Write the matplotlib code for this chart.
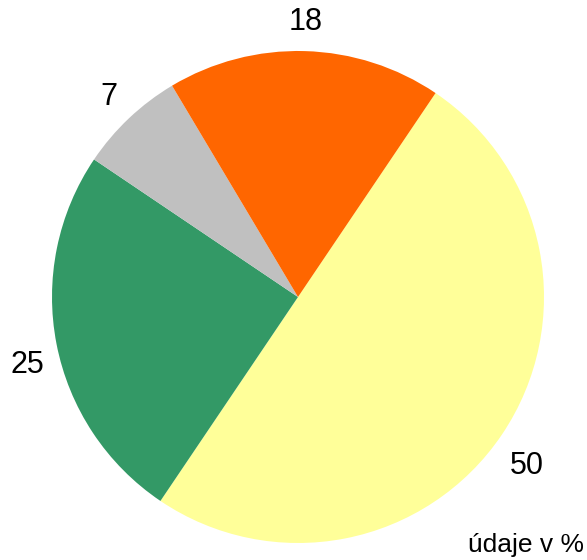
import matplotlib.pyplot as plt

values = [50, 25, 7, 18]
labels = ['50', '25', '7', '18']
colors = ['#FFFF99', '#339966', '#C0C0C0', '#FF6600']

center = (298, 263)

fig = plt.figure(figsize=(5.87, 5.60), dpi=100)
ax = fig.add_axes([0, 0, 1, 1])

wedges, texts = ax.pie(values, labels=labels, colors=colors, startangle=56,
                       counterclock=False, center=center, radius=246,
                       labeldistance=1.12, frame=True,
                       textprops={'fontsize': 22, 'family': 'Liberation Sans'})
for t in texts:
    t.set_horizontalalignment('center')
    x, y = t.get_position()
    # labels below the centre hang from their anchor, as in the original
    t.set_verticalalignment('top' if y < center[1] else 'center')

ax.set_xlim(0, 587)
ax.set_ylim(0, 560)
ax.set_aspect('equal')
ax.axis('off')

fig.text(0.995, 0.005, 'údaje v %', ha='right', va='bottom',
         fontsize=19, family='Liberation Sans')

fig.savefig('out.png', dpi=100)
